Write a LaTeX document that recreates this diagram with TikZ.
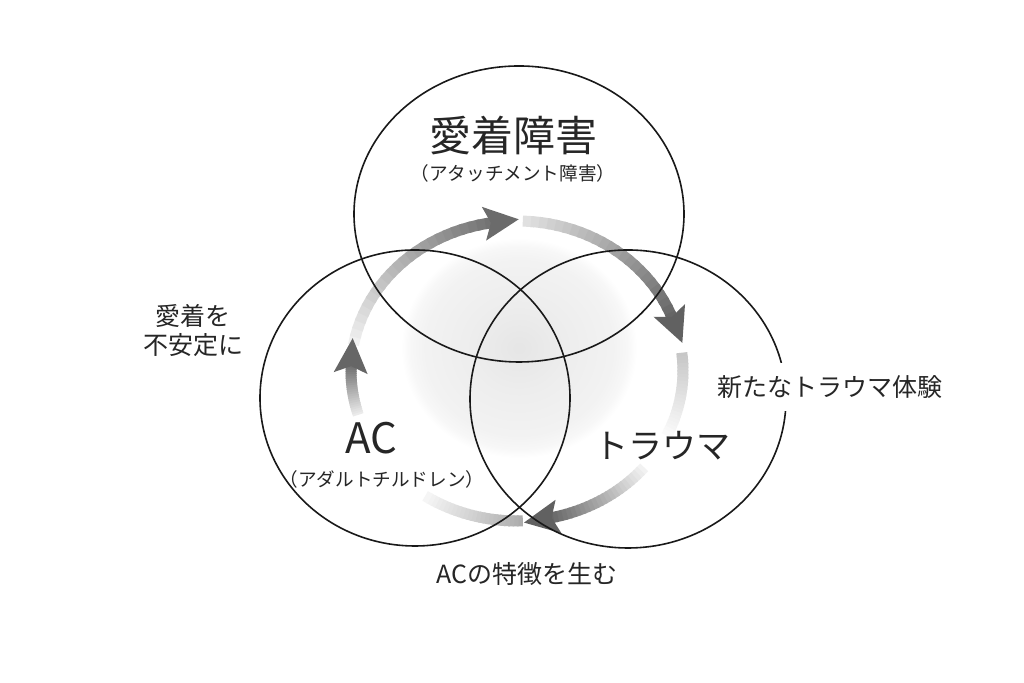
\documentclass[tikz,border=0pt]{standalone}
\usepackage{fontspec}
\setmainfont{Noto Sans CJK JP}
\usepackage{tikz}
\usetikzlibrary{positioning, calc}
\tikzset{venn/.style={draw=black!90, line width=0.8pt}, band/.style={line width=5.5pt, line cap=butt}, lbl/.style={inner sep=0pt, text=black!85}}
\pgfdeclareradialshading{blobshade}{\pgfpoint{0bp}{0bp}}{color(0bp)=(black!10); color(10bp)=(black!7); color(20bp)=(black!5); color(23bp)=(black!3); color(25bp)=(white); color(50bp)=(white)}

% ring of arrows: centre (517,312), radii 166 / 150
\newcommand{\ringband}[4]{%
  \foreach \i in {0,...,23}{%
    \pgfmathsetmacro\ta{#1+(#2-#1)*\i/24}%
    \pgfmathsetmacro\tb{#1+(#2-#1)*(\i+1.4)/24}%
    \pgfmathsetmacro\sh{#3+(#4-#3)*\i/23}%
    \draw[band, draw=black!\sh] ({517+166*cos(\ta)},{312+150*sin(\ta)}) arc[start angle=\ta, end angle=\tb, x radius=166, y radius=150];
  }}
\newcommand{\ringhead}[2]{%
  \pgfmathsetmacro\rot{atan2(-150*cos(#1),166*sin(#1))}%
  \fill[black!#2, shift={({517+166*cos(#1)},{312+150*sin(#1)})}, rotate=\rot] (-3,0) -- (-10,17) -- (25,0) -- (-10,-17) -- cycle;}

\begin{document}
\begin{tikzpicture}[x=0.5pt, y=0.5pt]
  \useasboundingbox (0,0) rectangle (1024,683);
  \fill[white] (0,0) rectangle (1024,683);

  \coordinate (topc) at (519,469);
  \coordinate (leftc) at (415,285);
  \coordinate (rightc) at (628,284);

  % soft grey centre
  \shade[shading=blobshade] (519,335) ellipse [x radius=118, y radius=110];

  % cycle arrows
  \ringband{-88}{-123}{32}{4}
  \ringband{7}{-25}{22}{2}
  \ringband{170}{98}{6}{55}
  \ringhead{98}{58}
  \ringband{88}{20}{12}{60}
  \ringhead{20}{62}
  \ringband{-40}{-79}{5}{60}
  \ringhead{-79}{62}
  \ringband{197}{177}{8}{58}
  \ringhead{177}{60}

  % circles
  \draw[venn] (topc) ellipse [x radius=165, y radius=148];
  \draw[venn] (leftc) ellipse [x radius=155, y radius=148];
  \draw[venn] (rightc) ellipse [x radius=158, y radius=149];

  \node[lbl, font=\fontsize{21}{25}\selectfont] (aitit) at (513,547) {愛着障害};
  \node[lbl, font=\fontsize{9.3}{11}\selectfont] (aisub) at (513,510) {（アタッチメント障害）};
  \node[lbl, font=\fontsize{21}{24}\selectfont] (actit) at (371,245) {AC};
  \node[lbl, font=\fontsize{9.3}{11}\selectfont] (acsub) at (382,204) {（アダルトチルドレン）};
  \node[lbl, font=\fontsize{17}{20}\selectfont] (trtit) at (662,237) {トラウマ};
  \node[lbl, fill=white, inner xsep=2pt, inner ysep=6pt, font=\fontsize{12.5}{15}\selectfont] (newtr) at (830,296) {新たなトラウマ体験};
  \node[lbl, align=center, font=\fontsize{12.5}{14.5}\selectfont] (unst) at (193,352.5) {愛着を\\不安定に};
  \node[lbl, font=\fontsize{12.5}{15}\selectfont] (acgen) at (527,109) {ACの特徴を生む};
\end{tikzpicture}
\end{document}
